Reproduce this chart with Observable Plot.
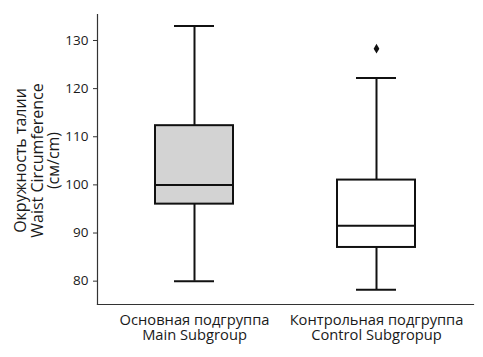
<!DOCTYPE html>
<html>
<head>
<meta charset="utf-8">
<script src="https://cdn.jsdelivr.net/npm/d3@7"></script>
<script src="https://cdn.jsdelivr.net/npm/@observablehq/plot@0.6"></script>
<style>
  html, body { margin: 0; padding: 0; background: #fff; }
  #chart svg { display: block; }
</style>
</head>
<body>
<div id="chart"></div>
<script>
// Categories (x tick labels)
const groups = ["Основная подгруппа\nMain Subgroup", "Контрольная подгруппа\nControl Subgropup"];
// Box statistics
const mins    = [80, 78.2];
const q1s     = [96, 87];
const medians = [100, 91.5];
const q3s     = [112.3, 101];
const maxs    = [133, 122.2];
const fills   = ["#d3d3d3", "#ffffff"];
// Outliers
const outlierGroups = [groups[1]];
const outlierValues = [128.3];
// Y ticks
const yTicks = [80, 90, 100, 110, 120, 130];
const yTitle = "Окружность талии\nWaist Circumference\n(см/cm)";

const boxes = groups.map((g, i) => ({
  group: g, min: mins[i], q1: q1s[i], median: medians[i], q3: q3s[i], max: maxs[i], fill: fills[i]
}));
const outliers = outlierGroups.map((g, i) => ({group: g, value: outlierValues[i]}));

const font = "'Open Sans', 'Noto Sans', sans-serif";

const chart = Plot.plot({
  width: 483,
  height: 357,
  marginLeft: 97,
  marginRight: 10,
  marginTop: 14,
  marginBottom: 53,
  style: {fontFamily: font, fontSize: "13px", color: "#1a1a1a", background: "#fff"},
  x: {type: "band", domain: groups, paddingInner: 0.574, paddingOuter: 0.315, label: null},
  y: {domain: [75.15, 135.4], label: null},
  marks: [
    Plot.frame({anchor: "left", stroke: "#333", strokeWidth: 1.2}),
    Plot.frame({anchor: "bottom", stroke: "#333", strokeWidth: 1.2}),
    Plot.axisY({ticks: yTicks, tickSize: 4, tickPadding: 5, fontSize: 13.5, label: null, stroke: "#333"}),
    Plot.axisX({tickSize: 0, tickPadding: 10, fontSize: 14.7, lineHeight: 1.02, label: null}),
    // whiskers
    Plot.ruleX(boxes, {x: "group", y1: "q3", y2: "max", stroke: "#111", strokeWidth: 2}),
    Plot.ruleX(boxes, {x: "group", y1: "min", y2: "q1", stroke: "#111", strokeWidth: 2}),
    // caps
    Plot.tickY(boxes, {x: "group", y: "max", stroke: "#111", strokeWidth: 2, insetLeft: 19, insetRight: 19}),
    Plot.tickY(boxes, {x: "group", y: "min", stroke: "#111", strokeWidth: 2, insetLeft: 19, insetRight: 19}),
    // boxes
    Plot.barY(boxes, {x: "group", y1: "q1", y2: "q3", fill: "fill", stroke: "#111", strokeWidth: 2}),
    // medians
    Plot.tickY(boxes, {x: "group", y: "median", stroke: "#111", strokeWidth: 2}),
    // outliers
    Plot.dot(outliers, {x: "group", y: "value", symbol: "diamond", r: 3, fill: "#111", stroke: null}),
    // y title
    Plot.text([yTitle], {text: d => d, frameAnchor: "left", textAnchor: "middle", lineAnchor: "middle", dx: -60, dy: 1, rotate: -90, fontSize: 16, lineHeight: 1.03, fill: "#1a1a1a"})
  ]
});
document.getElementById("chart").appendChild(chart);
</script>
</body>
</html>
